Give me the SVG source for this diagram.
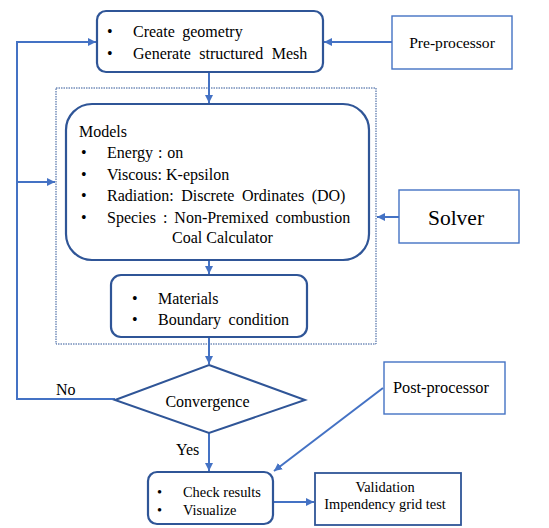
<svg xmlns="http://www.w3.org/2000/svg" width="549" height="528" viewBox="0 0 549 528">
<style>
.rb{fill:#fff;stroke:#2F5597;stroke-width:2.2}
.sb{fill:#fff;stroke:#4472C4;stroke-width:1.4}
.ln{fill:none;stroke:#4472C4;stroke-width:2}
text{font-family:"Liberation Serif","Times New Roman",serif;fill:#000}
.m{font-size:16px}
.w{word-spacing:3.5px}
.s{font-size:14.4px}
</style>
<defs>
<marker id="a" viewBox="0 0 10 10" refX="10" refY="5" markerWidth="4" markerHeight="4" orient="auto" markerUnits="strokeWidth">
<path d="M0,0 L10,5 L0,10 z" fill="#4472C4"/>
</marker>
</defs>
<rect width="549" height="528" fill="#fff"/>
<g id="solver-group">
<rect x="56" y="88" width="320" height="256" fill="none" stroke="#2F5597" stroke-width="1" stroke-dasharray="1.5,1"/>
</g>
<g id="connectors">
<path class="ln" d="M392,42 H324" marker-end="url(#a)"/>
<path class="ln" d="M115,399 H17 V42 H96" marker-end="url(#a)"/>
<path class="ln" d="M17,182 H55" marker-end="url(#a)"/>
<path class="ln" d="M209,72 V103" marker-end="url(#a)"/>
<path class="ln" d="M399,217 H377" marker-end="url(#a)"/>
<path class="ln" d="M209,260 V274" marker-end="url(#a)"/>
<path class="ln" d="M209,337 V364" marker-end="url(#a)"/>
<path class="ln" d="M209,433 V471" marker-end="url(#a)"/>
<path class="ln" d="M383,388 L274,471" marker-end="url(#a)"/>
<path class="ln" d="M273,502 H314" marker-end="url(#a)"/>
</g>
<g id="geometry">
<rect class="rb" x="97" y="11" width="226" height="61" rx="9"/>
<text class="m" x="107" y="37">•</text>
<text class="m w" x="133" y="37">Create geometry</text>
<text class="m" x="107" y="59">•</text>
<text class="m" x="133" y="59" style="word-spacing:4.5px">Generate structured Mesh</text>
</g>
<g id="preprocessor">
<rect class="sb" x="392" y="16" width="120" height="53"/>
<text x="452" y="48" text-anchor="middle" style="font-size:15.6px">Pre-processor</text>
</g>
<g id="models">
<rect class="rb" x="66" y="104" width="303" height="156" rx="26"/>
<text class="m" x="79" y="137">Models</text>
<text class="m" x="81" y="158">•</text>
<text class="m" x="107" y="158" style="word-spacing:1px">Energy : on</text>
<text class="m" x="81" y="180">•</text>
<text class="m" x="107" y="180">Viscous: K-epsilon</text>
<text class="m" x="81" y="201">•</text>
<text class="m w" x="107" y="201">Radiation: Discrete Ordinates (DO)</text>
<text class="m" x="81" y="223">•</text>
<text class="m" x="107" y="223" style="word-spacing:3px">Species : Non-Premixed combustion</text>
<text class="m" x="172" y="243">Coal Calculator</text>
</g>
<g id="solver">
<rect class="sb" x="399" y="190" width="120" height="53"/>
<text x="456" y="225" text-anchor="middle" style="font-size:21.5px">Solver</text>
</g>
<g id="materials">
<rect class="rb" x="111" y="275" width="196" height="62" rx="10"/>
<text class="m" x="132" y="304">•</text>
<text class="m" x="158" y="304">Materials</text>
<text class="m" x="132" y="325">•</text>
<text class="m w" x="158" y="325">Boundary condition</text>
</g>
<g id="convergence">
<polygon points="209,365 305,400 209,433 115,400" fill="#fff" stroke="#2F5597" stroke-width="2"/>
<text class="m" x="207.5" y="407" text-anchor="middle">Convergence</text>
</g>
<text class="m" x="56" y="395">No</text>
<text class="m" x="176" y="455">Yes</text>
<g id="postprocessor">
<rect class="sb" x="384" y="362" width="121" height="52"/>
<text x="393" y="393" style="font-size:16.3px">Post-processor</text>
</g>
<g id="results">
<rect class="rb" x="148" y="472" width="125" height="52" rx="9"/>
<text class="s" x="157" y="497">•</text>
<text class="s" x="183" y="497">Check results</text>
<text class="s" x="157" y="515">•</text>
<text class="s" x="183" y="515">Visualize</text>
</g>
<g id="validation">
<rect x="315" y="473" width="146" height="52" fill="#fff" stroke="#2F5597" stroke-width="1.8"/>
<text class="s" x="385" y="492" text-anchor="middle">Validation</text>
<text class="s" x="385" y="509" text-anchor="middle">Impendency grid test</text>
</g>
</svg>
